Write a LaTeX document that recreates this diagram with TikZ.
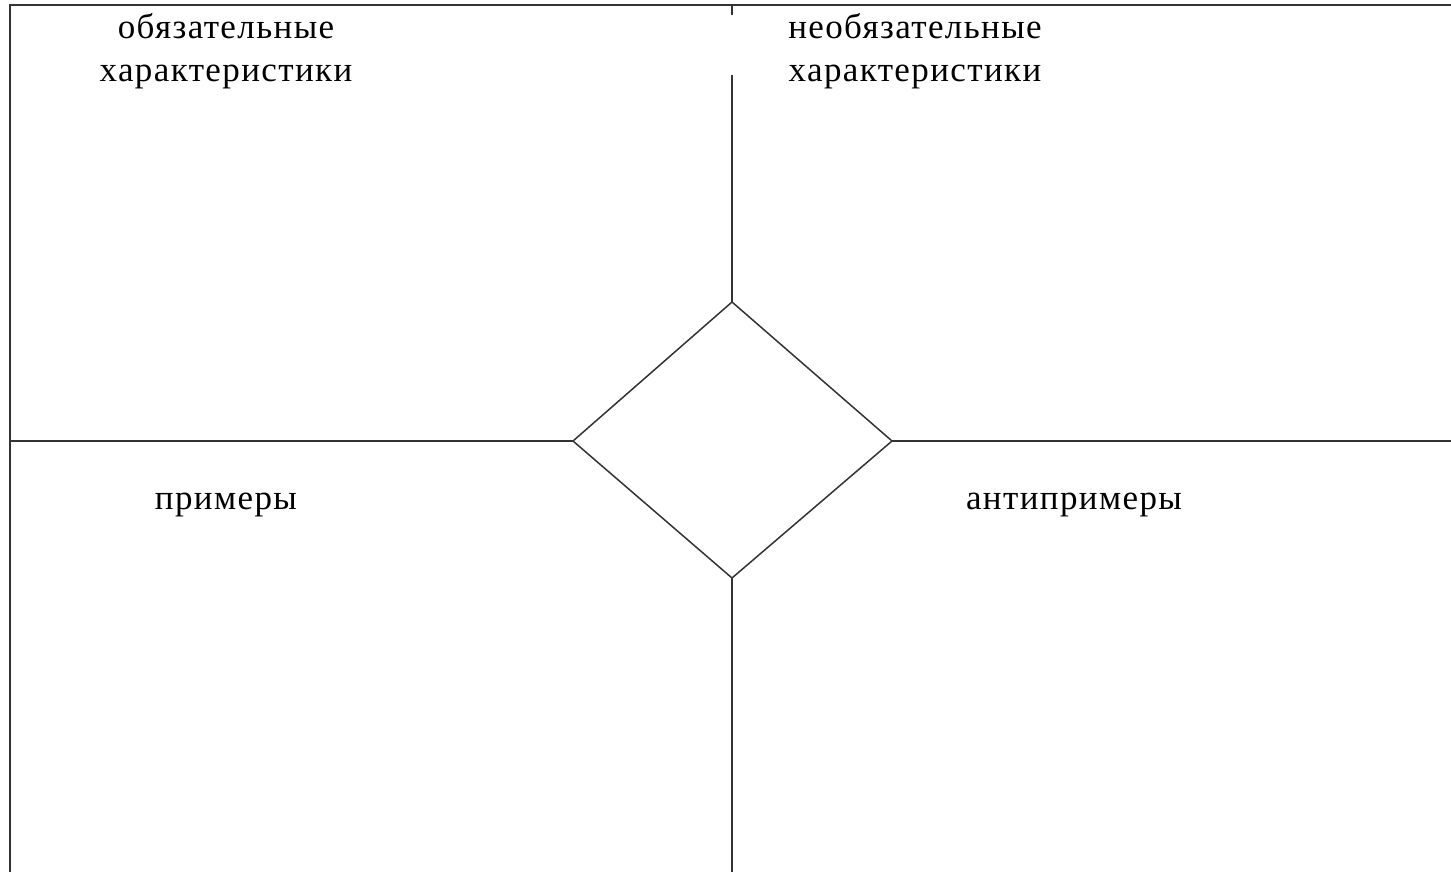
\documentclass[tikz,border=0pt]{standalone}
\usepackage{fontspec}
\setmainfont[LetterSpace=4]{Liberation Serif}
\usetikzlibrary{positioning}
\tikzset{every path/.style={black!80, line width=1.5pt}, every node/.style={font=\fontsize{35}{43}\selectfont, inner sep=0pt, align=center, text=black}}

\begin{document}
\begin{tikzpicture}[x=1pt,y=-1pt]
   \useasboundingbox (0,0) rectangle (1451,872);
   % frame corners and ends
   \coordinate (tl) at (10,5);
   \coordinate (tr) at (1451,5);
   \coordinate (bl) at (10,872);
   \coordinate (ml) at (10,441);
   \coordinate (mr) at (1451,441);
   \coordinate (tick) at (732,15);
   \coordinate (tstub) at (732,75);
   \coordinate (bot) at (732,872);
   \coordinate (tmid) at (732,5);
   % diamond corners
   \coordinate (dtop) at (732,302);
   \coordinate (dleft) at (573,441);
   \coordinate (dright) at (892,441);
   \coordinate (dbot) at (732,578);
   \draw (bl) -- (tl) -- (tr);
   \draw (tmid) -- (tick);
   \draw (tstub) -- (dtop);
   \draw (dbot) -- (bot);
   \draw (ml) -- (dleft);
   \draw (dright) -- (mr);
   \draw (dtop) -- (dright) -- (dbot) -- (dleft) -- cycle;
   % labels
   \node (req) at (226,51) {обязательные\\характеристики};
   \node (opt) at (915,51) {необязательные\\характеристики};
   \node[anchor=base] (ex) at (226,509) {примеры};
   \node[anchor=base] (anti) at (1074,509) {антипримеры};
\end{tikzpicture}
\end{document}
